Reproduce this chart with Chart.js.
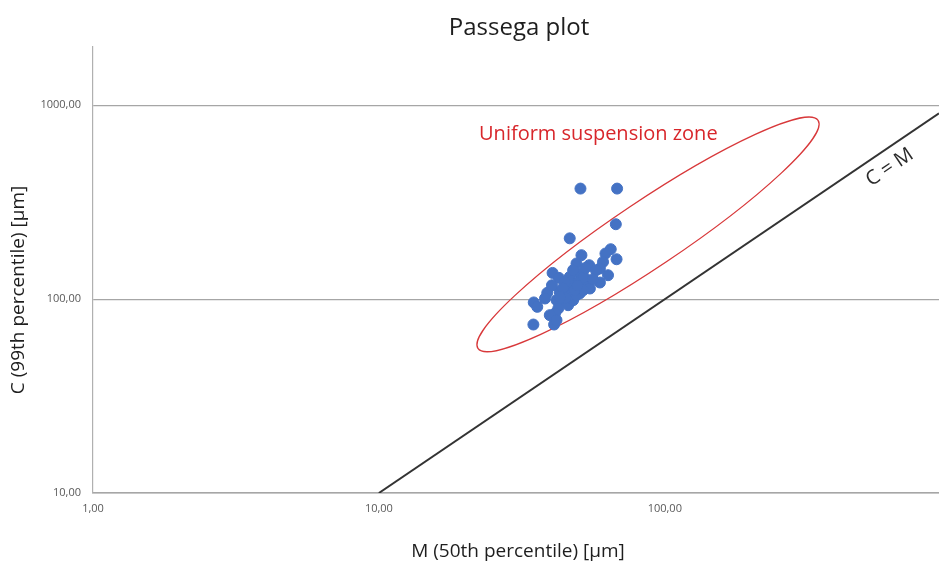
<!DOCTYPE html>
<html>
<head>
<meta charset="utf-8">
<title>Passega plot</title>
<script src="https://cdn.jsdelivr.net/npm/chart.js@4"></script>
<style>
	html, body { margin: 0; padding: 0; background: #fff; }
	#wrap { width: 939px; height: 572px; }
</style>
</head>
<body>
<div id="wrap"><canvas id="passega" width="939" height="572"></canvas></div>
<script>
// M = 50th percentile, C = 99th percentile, both in µm
const sampleM = [50.7, 68.1, 67.4, 46.5, 34.7, 41.0, 64.7, 62.0, 67.8, 51.1,
	49.1, 54.4, 60.8, 59.3, 63.3, 59.3, 40.5, 42.6, 46.5, 50.4,
	53.9, 54.7, 50.4, 47.2, 45.3, 42.9, 38.8, 38.1, 34.8, 35.8,
	41.8, 43.5, 45.9, 42.4, 41.3, 39.6, 41.8, 47.8, 49.1, 51.8,
	44.7, 47.8, 49.8, 52.1, 44.0, 48.4, 40.3, 57.4, 56.0, 43.6,
	45.0, 49.5, 43.0, 52.8];
const sampleC = [372, 372, 243.6, 206, 74.0, 74.0, 181, 172, 160.7, 168.6,
	152.8, 149.7, 155.7, 143.9, 132.9, 121.9, 136.6, 128.8, 130.3, 135.6,
	121.9, 113.5, 107.0, 115.7, 104.9, 109.0, 107.8, 100.8, 96.2, 91.3,
	98.8, 96.8, 93.1, 89.5, 84.4, 82.7, 77.9, 98.8, 104.9, 111.3,
	122.8, 141.1, 122.8, 130.3, 114, 111.3, 118, 141, 126.8, 103.6,
	101.5, 117.5, 102.5, 145];

// C = M reference line
const lineM = [10, 910];
const yTicks = [10, 100, 1000];
const xTicks = [1, 10, 100];

// uniform suspension zone: ends of the long axis (M, C)
const zoneEnds = [[22.2, 55.7], [343.6, 837]];
const zoneLabel = { text: "Uniform suspension zone", m: 22.4, c: 709 };
const lineLabel = { text: "C = M", m: 612, c: 479 };

const FONT = "'Open Sans', sans-serif";

function fmt(v) {
	return Number(v).toFixed(2).replace(".", ",");
}

const decor = {
	id: "decor",
	beforeDatasetsDraw(chart) {
		const ctx = chart.ctx, sx = chart.scales.x, sy = chart.scales.y;
		const x1 = sx.getPixelForValue(zoneEnds[0][0]), y1 = sy.getPixelForValue(zoneEnds[0][1]);
		const x2 = sx.getPixelForValue(zoneEnds[1][0]), y2 = sy.getPixelForValue(zoneEnds[1][1]);
		const cx = (x1 + x2) / 2, cy = (y1 + y2) / 2;
		const a = Math.hypot(x2 - x1, y2 - y1) / 2;
		ctx.save();
		ctx.beginPath();
		ctx.ellipse(cx, cy, a, 33, Math.atan2(y2 - y1, x2 - x1), 0, Math.PI * 2);
		ctx.strokeStyle = "#d8383a";
		ctx.lineWidth = 1.3;
		ctx.stroke();
		ctx.restore();
	},
	afterDraw(chart) {
		const ctx = chart.ctx, sx = chart.scales.x, sy = chart.scales.y;
		ctx.save();
		ctx.textBaseline = "middle";

		// title
		ctx.fillStyle = "#1e1e1e";
		ctx.textAlign = "center";
		ctx.font = "24px " + FONT;
		ctx.fillText("Passega plot", 519, 28);

		// axis titles
		ctx.font = "19px " + FONT;
		ctx.fillText("M (50th percentile) [µm]", 518, 552);
		ctx.save();
		ctx.translate(19, 290);
		ctx.rotate(-Math.PI / 2);
		ctx.fillText("C (99th percentile) [µm]", 0, 0);
		ctx.restore();

		// zone label
		ctx.fillStyle = "#d8262b";
		ctx.textAlign = "left";
		ctx.font = "20px " + FONT;
		ctx.fillText(zoneLabel.text, sx.getPixelForValue(zoneLabel.m), sy.getPixelForValue(zoneLabel.c));

		// C = M label, rotated along the line
		const ang = Math.atan2(sy.getPixelForValue(lineM[1]) - sy.getPixelForValue(lineM[0]),
			sx.getPixelForValue(lineM[1]) - sx.getPixelForValue(lineM[0]));
		ctx.save();
		ctx.translate(sx.getPixelForValue(lineLabel.m), sy.getPixelForValue(lineLabel.c));
		ctx.rotate(ang);
		ctx.fillStyle = "#2a2a2a";
		ctx.textAlign = "center";
		ctx.font = "20px " + FONT;
		ctx.fillText(lineLabel.text, 0, 0);
		ctx.restore();

		ctx.restore();
	}
};

new Chart(document.getElementById("passega").getContext("2d"), {
	type: "scatter",
	data: {
		datasets: [
			{
				label: "C = M",
				data: lineM.map(v => ({ x: v, y: v })),
				showLine: true,
				borderColor: "#333333",
				borderWidth: 2,
				pointRadius: 0,
				order: 2
			},
			{
				label: "Samples",
				data: sampleM.map((m, i) => ({ x: m, y: sampleC[i] })),
				backgroundColor: "#4472c4",
				borderColor: "#4472c4",
				pointRadius: 5.5,
				order: 1
			}
		]
	},
	options: {
		responsive: false,
		animation: false,
		layout: { autoPadding: false, padding: { top: 47, right: 0, left: 0, bottom: 0 } },
		plugins: {
			legend: { display: false },
			tooltip: { enabled: false }
		},
		scales: {
			x: {
				type: "logarithmic",
				min: 1,
				max: 910,
				afterBuildTicks: s => { s.ticks = xTicks.map(v => ({ value: v })); },
				afterFit: s => { s.height = 79; s.paddingLeft = 0; s.paddingRight = 0; },
				grid: { display: false, drawTicks: false },
				border: { display: true, color: "#a6a6a6", width: 1.5 },
				ticks: {
					padding: 9,
					maxRotation: 0,
					color: "#595959",
					font: { family: FONT, size: 11 },
					callback: v => fmt(v)
				}
			},
			y: {
				type: "logarithmic",
				min: 10,
				max: 2000,
				afterBuildTicks: s => { s.ticks = yTicks.map(v => ({ value: v })); },
				afterFit: s => { s.width = 93; s.paddingTop = 0; s.paddingBottom = 0; },
				grid: { color: "#a6a6a6", lineWidth: 1.2, drawTicks: false },
				border: { display: true, color: "#b0b0b0", width: 1.2 },
				ticks: {
					padding: 12,
					color: "#595959",
					font: { family: FONT, size: 11 },
					callback: v => fmt(v)
				}
			}
		}
	},
	plugins: [decor]
});
</script>
</body>
</html>
